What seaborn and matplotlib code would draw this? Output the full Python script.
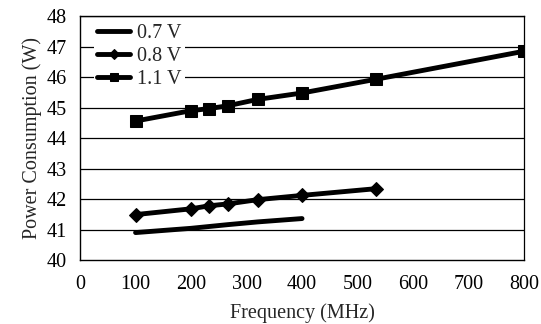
import numpy as np
import pandas as pd
import seaborn as sns
import matplotlib.pyplot as plt

# data
freq_07 = [100, 200, 233, 266, 320, 400]
power_07 = [40.9, 41.04, 41.1, 41.16, 41.25, 41.36]

freq_08 = [100, 200, 233, 266, 320, 400, 533]
power_08 = [41.49, 41.68, 41.78, 41.84, 41.98, 42.12, 42.34]

freq_11 = [100, 200, 233, 266, 320, 400, 533, 800]
power_11 = [44.56, 44.9, 44.97, 45.06, 45.27, 45.48, 45.93, 46.85]

x_ticks = [0, 100, 200, 300, 400, 500, 600, 700, 800]
y_ticks = [40, 41, 42, 43, 44, 45, 46, 47, 48]

sns.set_style("white")
plt.rcParams['font.family'] = ['Liberation Serif', 'DejaVu Serif']

fig = plt.figure(figsize=(5.41, 3.24), dpi=100)
ax = fig.add_axes([0.148, 0.1975, 0.8206, 0.7525])

# horizontal grid lines
for y in y_ticks[1:]:
    ax.axhline(y, color='black', lw=0.9, zorder=0)

df07 = pd.DataFrame({'f': freq_07, 'p': power_07})
df08 = pd.DataFrame({'f': freq_08, 'p': power_08})
df11 = pd.DataFrame({'f': freq_11, 'p': power_11})

sns.lineplot(data=df07, x='f', y='p', color='black', lw=3.5, label='0.7 V', ax=ax)
sns.lineplot(data=df08, x='f', y='p', color='black', lw=3.5, marker='D', markersize=7,
             markeredgecolor='black', label='0.8 V', ax=ax)
sns.lineplot(data=df11, x='f', y='p', color='black', lw=3.5, marker='s', markersize=8,
             markeredgecolor='black', label='1.1 V', ax=ax)

ax.set_xlim(0, 800)
ax.set_ylim(40, 48)
ax.set_xticks(x_ticks)
ax.set_yticks(y_ticks)
ax.tick_params(axis='both', direction='inout', length=7, width=1, labelsize=14.5,
               colors='black')
ax.tick_params(axis='x', pad=7)
ax.tick_params(axis='y', pad=6)
ax.set_xlabel('Frequency (MHz)', fontsize=14.5, labelpad=7)
ax.set_ylabel('Power Consumption (W)', fontsize=14.5, labelpad=3)

for s in ax.spines.values():
    s.set_color('black')
    s.set_linewidth(1)
ax.spines['right'].set_linewidth(0.9)

leg = ax.legend(loc='upper left', fontsize=14.5, frameon=True, fancybox=False,
                handlelength=1.65, handletextpad=0.35, labelspacing=0.2,
                borderpad=0.15, markerscale=0.7, bbox_to_anchor=(0.009, 1.023))
leg.get_frame().set_facecolor('white')
leg.get_frame().set_edgecolor('none')
leg.get_frame().set_alpha(1)

fig.savefig('out.png', dpi=100)
